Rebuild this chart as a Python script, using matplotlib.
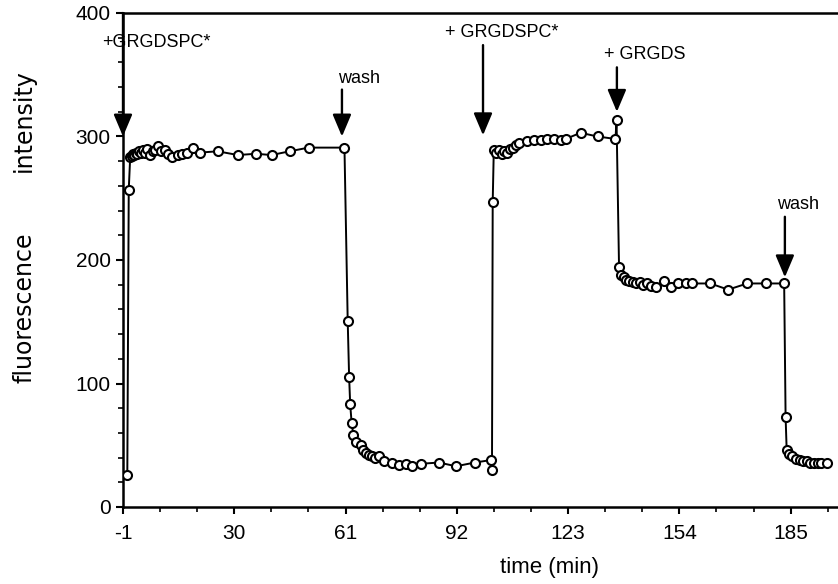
import matplotlib
matplotlib.use("Agg")
import matplotlib.pyplot as plt
from matplotlib.ticker import MultipleLocator, FixedLocator

plt.rcParams['font.family'] = ['Liberation Sans', 'DejaVu Sans']

# Fluorescence time course (min, arbitrary units)
time_min = [
    0.2, 0.6, 1.0, 1.4, 1.8, 2.2, 2.6, 3.0, 3.5, 4.0, 4.6, 5.2, 5.8, 6.5, 7.3,
    8.0, 8.7, 9.6, 10.6, 11.5, 12.6, 14.3, 15.5, 16.8, 18.4, 20.4, 25.4, 31.0,
    36.0, 40.4, 45.4, 50.7, 60.7,
    61.6, 62.0, 62.3, 62.7, 63.2, 64.0, 65.2, 66.0, 66.8, 67.5, 68.3, 69.2,
    70.4, 71.8, 74.0, 76.0, 77.9, 79.6, 82.0, 87.0, 91.8, 97.0, 101.5, 101.8,
    102.0, 102.3, 103.0, 103.8, 104.5, 105.2, 106.0, 106.8, 107.6, 108.4, 109.3,
    111.5, 113.4, 115.4, 117.0, 119.0, 121.0, 122.3, 126.5, 131.2, 136.2, 136.5,
    137.2, 137.8, 138.5, 139.2, 140.0, 141.0, 142.0, 143.0, 144.0, 145.0, 146.2,
    147.6, 149.8, 151.8, 153.7, 155.9, 157.6, 162.6, 167.6, 172.9, 178.2, 183.2,
    183.6, 183.9, 184.6, 185.5, 186.5, 187.5, 188.5, 189.5, 190.5, 191.5, 192.5,
    193.5, 195.0,
]
intensity = [
    26, 257, 283, 284, 286, 285, 287, 286, 288, 287, 289, 287, 290, 285, 288,
    289, 292, 288, 289, 286, 283, 285, 286, 287, 291, 287, 288, 285,
    286, 285, 288, 291, 291,
    151, 105, 83, 68, 58, 53, 50, 46, 44, 42, 41, 40,
    41, 37, 36, 34, 35, 33, 35, 36, 33, 36, 38, 30,
    247, 289, 287, 289, 286, 288, 287, 290, 291, 293, 295,
    296, 297, 297, 298, 298, 297, 298, 303, 300, 298, 313,
    194, 188, 186, 184, 183, 182, 181, 182, 180, 181, 179,
    178, 183, 178, 181, 181, 181, 181, 176, 181, 181, 181,
    73, 46, 43, 41, 39, 38, 37, 37, 36, 36, 36,
    36, 36,
]

# Additions and washes: label, arrow x, arrow tail y, arrow tip y, label x, label y
event_labels = ["+GRGDSPC*", "wash", "+ GRGDSPC*", "+ GRGDS", "wash"]
event_x = [-1.0, 60.0, 99.3, 136.6, 183.4]
event_tail = [400, 338, 374, 356, 235]
event_tip = [300, 300, 301, 320, 186]
label_x = [-6.8, 59.0, 88.7, 133.0, 181.2]
label_y = [376, 347, 384, 366, 245]

x_ticks = [-1, 30, 61, 92, 123, 154, 185]
y_ticks = [0, 100, 200, 300, 400]

fig = plt.figure(figsize=(8.38, 5.84), dpi=100)
ax = fig.add_axes([123 / 838, 1 - 507 / 584, 1 - 123 / 838, (507 - 13) / 584])

ax.plot(time_min, intensity, color='black', lw=1.4, marker='o', ms=6.5,
        mfc='white', mec='black', mew=1.5, zorder=3)

ax.set_xlim(-1, 198.2)
ax.set_ylim(0, 400)

ax.xaxis.set_major_locator(FixedLocator(x_ticks))
ax.xaxis.set_minor_locator(FixedLocator([-1 + i * 31 / 3 for i in range(0, 20)]))
ax.yaxis.set_major_locator(FixedLocator(y_ticks))
ax.yaxis.set_minor_locator(MultipleLocator(20))

ax.set_xticklabels([str(t) for t in x_ticks], fontsize=15)
ax.set_yticklabels([str(t) for t in y_ticks], fontsize=15)

ax.tick_params(axis='both', which='major', direction='out', length=5, width=1.5, color='black')
ax.tick_params(axis='both', which='minor', direction='out', length=3.5, width=1.2, color='black')
ax.tick_params(axis='x', which='major', pad=7)
ax.tick_params(axis='y', which='major', pad=4)

for side in ['left', 'bottom', 'top']:
    ax.spines[side].set_linewidth(1.8)
ax.spines['right'].set_visible(False)

for lab, xa, ya0, ya1, lx, ly in zip(event_labels, event_x, event_tail, event_tip,
                                      label_x, label_y):
    ax.annotate('', xy=(xa, ya1), xytext=(xa, ya0),
                arrowprops=dict(arrowstyle='-|>,head_length=0.9,head_width=0.38',
                                mutation_scale=15, lw=1.7, color='black',
                                shrinkA=0, shrinkB=0),
                annotation_clip=False, zorder=4)
    ax.text(lx, ly, lab, ha='left', va='center', fontsize=13, clip_on=False, zorder=5)

fig.text(550 / 838, 1 - 568 / 584, 'time (min)', ha='center', va='center', fontsize=16)
fig.text(24 / 838, 1 - 308 / 584, 'fluorescence', rotation=90, ha='center', va='center',
         family='DejaVu Sans', fontsize=17)
fig.text(24 / 838, 1 - 121 / 584, 'intensity', rotation=90, ha='center', va='center',
         family='DejaVu Sans', fontsize=17)

fig.savefig('out.png', dpi=100)
